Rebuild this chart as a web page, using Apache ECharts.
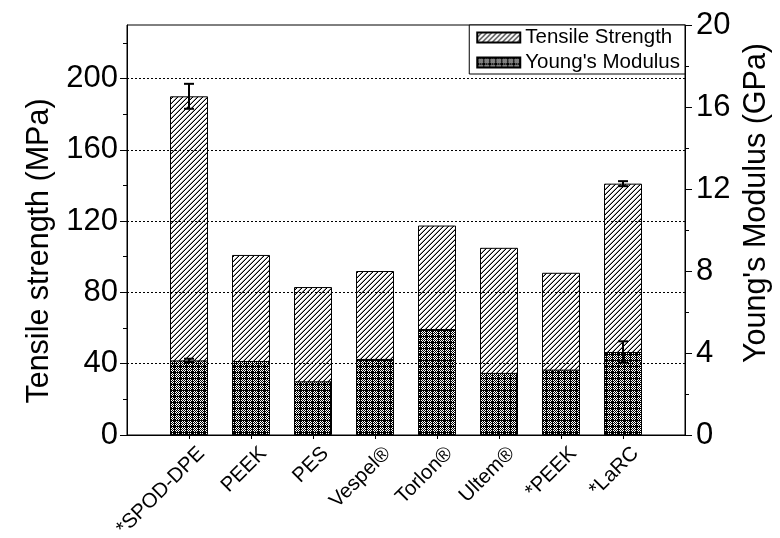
<!DOCTYPE html>
<html><head><meta charset="utf-8">
<script src="https://cdn.jsdelivr.net/npm/echarts@6/dist/echarts.min.js"></script>
<style>html,body{margin:0;padding:0;background:#fff}#c{width:780px;height:538px}</style>
</head><body><div id="c"></div>
<script>
const categories = ['*SPOD-DPE', 'PEEK', 'PES', 'Vespel®', 'Torlon®', 'Ultem®', '*PEEK', '*LaRC'];
const tensileStrength = [190, 101, 83, 92, 117.5, 105, 91, 141];
const tensileError = [7, 0, 0, 0, 0, 0, 0, 1.4];
const youngsModulus = [3.64, 3.61, 2.62, 3.71, 5.17, 3.03, 3.19, 4.05];
const modulusError = [0.08, 0, 0, 0, 0, 0, 0, 0.52];
const leftTicks = [0, 40, 80, 120, 160, 200];
const leftMinorTicks = [20, 60, 100, 140, 180, 220];
const rightTicks = [0, 4, 8, 12, 16, 20];

const FONT = 'Liberation Sans';
const xCats = [''].concat(categories, ['']);

function hatchCanvas() {
  const n = 5, c = document.createElement('canvas');
  c.width = n; c.height = n;
  const g = c.getContext('2d');
  g.fillStyle = '#fff'; g.fillRect(0, 0, n, n);
  for (let i = 0; i < n; i++) {
    g.fillStyle = '#000'; g.fillRect(i, n - 1 - i, 1, 1);
    g.fillStyle = '#999'; g.fillRect(i, (2 * n - 2 - i) % n, 1, 1);
  }
  return c;
}
function gridCanvas() {
  const n = 6, c = document.createElement('canvas');
  c.width = n; c.height = n;
  const g = c.getContext('2d');
  g.fillStyle = '#fff'; g.fillRect(0, 0, n, n);
  g.fillStyle = '#000';
  g.fillRect(0, 0, n, 1); g.fillRect(0, 0, 1, n);
  for (let i = 1; i < n; i++) for (let j = 1; j < n; j++) if ((i + j) % 2 === 0) g.fillRect(i, j, 1, 1);
  return c;
}
const hatch = { image: hatchCanvas(), repeat: 'repeat' };
const grid = { image: gridCanvas(), repeat: 'repeat' };

function errRender(params, api) {
  const xi = api.value(0), v = api.value(1), e = api.value(2);
  if (!e) return null;
  const t = api.coord([xi, v + e]), b = api.coord([xi, v - e]);
  const hw = 5, st = { stroke: '#000', lineWidth: 2 };
  return { type: 'group', children: [
    { type: 'line', shape: { x1: t[0], y1: t[1], x2: b[0], y2: b[1] }, style: st },
    { type: 'line', shape: { x1: t[0] - hw, y1: t[1], x2: t[0] + hw, y2: t[1] }, style: st },
    { type: 'line', shape: { x1: b[0] - hw, y1: b[1], x2: b[0] + hw, y2: b[1] }, style: st }
  ] };
}

const chart = echarts.init(document.getElementById('c'), null, { renderer: 'canvas' });
chart.setOption({
  animation: false,
  backgroundColor: '#fff',
  textStyle: { fontFamily: FONT },
  grid: { left: 127, right: 95, top: 25, bottom: 103, show: true, borderColor: '#000', borderWidth: 1, backgroundColor: 'transparent', outerBoundsMode: 'none', containLabel: false },
  legend: {
    orient: 'vertical', right: 95, top: 25, icon: 'rect', itemWidth: 43, itemHeight: 10, itemGap: 4,
    padding: [2, 5, 1, 7], backgroundColor: '#fff', borderColor: '#000', borderWidth: 1, borderRadius: 0,
    textStyle: { fontSize: 20.5, color: '#000', fontFamily: FONT, lineHeight: 20 },
    data: ['Tensile Strength', "Young's Modulus"]
  },
  xAxis: [{
    type: 'category', data: xCats, boundaryGap: false,
    axisLine: { lineStyle: { color: '#000', width: 1 } },
    axisTick: { interval: (i) => i > 0 && i < xCats.length - 1, length: 4, lineStyle: { color: '#000' } },
    axisLabel: { interval: 0, rotate: 45, fontSize: 20.5, color: '#000', fontFamily: FONT, margin: 3, verticalAlign: 'top', padding: [7, 0, 0, 0] },
    splitLine: { show: false }
  }],
  yAxis: [{
    type: 'value', position: 'left', min: 0, max: 230, interval: 40, z: 5,
    name: 'Tensile strength (MPa)', nameLocation: 'middle', nameRotate: 90, nameGap: 70,
    nameTextStyle: { fontSize: 30.5, color: '#000', fontFamily: FONT, padding: [0, 42, 0, 0] },
    axisLine: { show: true, lineStyle: { color: '#000', width: 1 } },
    axisTick: { show: true, length: 7, customValues: leftTicks, lineStyle: { color: '#000' } },
    axisLabel: { customValues: leftTicks, fontSize: 31, color: '#000', fontFamily: FONT, margin: 9 },
    splitLine: { show: true, lineStyle: { color: '#000', type: [2, 2], width: 1 } }
  }, {
    type: 'value', position: 'right', min: 0, max: 20, interval: 4, z: 5,
    name: "Young's Modulus (GPa)", nameLocation: 'middle', nameRotate: 90, nameGap: 44,
    nameTextStyle: { fontSize: 30.5, color: '#000', fontFamily: FONT, padding: [0, 0, 0, 54] },
    axisLine: { show: true, lineStyle: { color: '#000', width: 1 } },
    axisTick: { show: true, length: 7, customValues: rightTicks, lineStyle: { color: '#000' } },
    minorTick: { show: true, splitNumber: 2, length: 4, lineStyle: { color: '#000' } },
    axisLabel: { customValues: rightTicks, fontSize: 31, color: '#000', fontFamily: FONT, margin: 11 },
    splitLine: { show: false }
  }, {
    type: 'value', position: 'left', min: 0, max: 230, z: 5,
    axisLine: { show: false },
    axisTick: { show: true, length: 4, customValues: leftMinorTicks, lineStyle: { color: '#000' } },
    axisLabel: { show: false },
    splitLine: { show: false }
  }],
  series: [{
    name: 'Tensile Strength', type: 'bar', yAxisIndex: 0, barWidth: 38, barGap: '-100%',
    itemStyle: { color: hatch, borderColor: '#000', borderWidth: 1 },
    data: categories.map((c, i) => [c, tensileStrength[i]])
  }, {
    name: "Young's Modulus", type: 'bar', yAxisIndex: 1, barWidth: 38, barGap: '-100%',
    itemStyle: { color: grid, borderColor: '#000', borderWidth: 1 },
    data: categories.map((c, i) => [c, youngsModulus[i]])
  }, {
    type: 'custom', yAxisIndex: 0, z: 10, renderItem: errRender, encode: { x: 0, y: 1 },
    data: categories.map((c, i) => [c, tensileStrength[i], tensileError[i]])
  }, {
    type: 'custom', yAxisIndex: 1, z: 10, renderItem: errRender, encode: { x: 0, y: 1 },
    data: categories.map((c, i) => [c, youngsModulus[i], modulusError[i]])
  }]
});
</script></body></html>
